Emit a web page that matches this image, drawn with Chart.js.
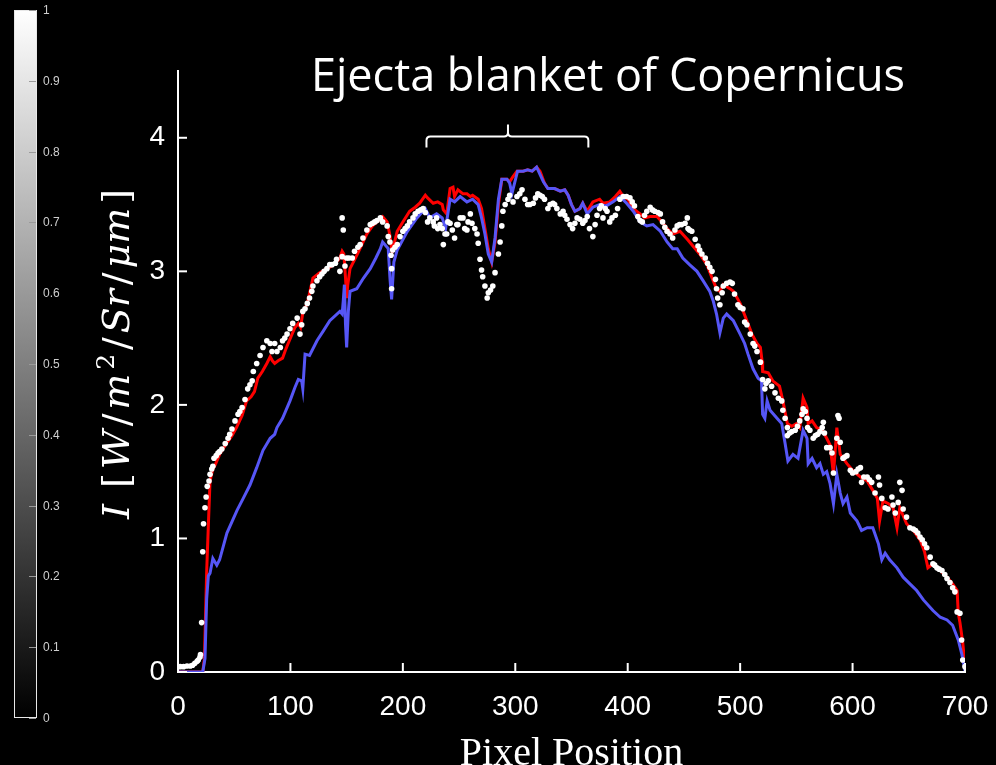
<!DOCTYPE html>
<html>
<head>
<meta charset="utf-8">
<script src="https://cdn.jsdelivr.net/npm/chart.js@4.4.1/dist/chart.umd.min.js"></script>
<style>
  html, body { margin: 0; padding: 0; background: #000; }
  #wrap { width: 996px; height: 765px; position: relative; }
</style>
</head>
<body>
<div id="wrap"><canvas id="perfil"></canvas></div>
<script>
// perfil de radiancia ao longo da linha de pixels

var xTicks = [0, 100, 200, 300, 400, 500, 600, 700];
var yTicks = [0, 1, 2, 3, 4];
var cbTicks = [0, 0.1, 0.2, 0.3, 0.4, 0.5, 0.6, 0.7, 0.8, 0.9, 1];

// curva vermelha
var redX = [0, 22, 23.5, 25.5, 27, 28.5, 31, 33, 37, 43, 48, 52, 57, 61, 65, 68, 71, 75, 79, 82, 84, 86, 89, 93, 96, 99,
  104, 107, 109, 111, 115, 120, 126, 132.5, 137, 141, 144, 146, 147.5, 149, 150, 151, 153, 159, 163, 168, 173, 177, 182,
  186, 188.5, 189.5, 190.5, 192, 195, 200, 206, 211, 215, 220, 222, 227, 231, 235, 236, 239, 242, 244.6, 246, 249, 253.5,
  257, 260, 262, 267, 270, 273, 276, 279, 282, 285, 288, 292.6, 295, 298, 301.5, 307, 311, 315, 319, 322, 326, 329, 335,
  340, 344, 347, 350, 353, 357.5, 360, 364, 369, 375, 378, 384, 389, 393, 396, 400, 405, 411, 415, 420, 426, 430.5, 435,
  440, 446.5, 453, 458, 464, 470.5, 475, 479, 482, 485, 491, 494, 500, 506, 510.5, 515, 518, 519.5, 520, 525, 529, 535,
  538, 542, 546, 550, 553, 556, 559.5, 560.5, 564, 568, 573, 577, 580, 583, 586, 589, 595, 600, 607, 613, 618, 622, 624,
  627, 632, 636, 639.5, 642, 648, 654, 660, 664, 667, 671.5, 678, 684, 689, 693, 694, 695.5, 698, 700];
var redY = [0, 0, 0.1, 0.75, 1.1, 1.43, 1.52, 1.55, 1.63, 1.71, 1.77, 1.83, 1.92, 2.03, 2.06, 2.1, 2.2, 2.25, 2.31, 2.36,
  2.33, 2.31, 2.33, 2.35, 2.42, 2.48, 2.58, 2.61, 2.58, 2.69, 2.76, 2.95, 2.99, 3.02, 3.04, 3.07, 3.1, 3.15, 3.13, 2.95,
  2.8, 2.9, 3.02, 3.12, 3.19, 3.28, 3.34, 3.37, 3.41, 3.37, 3.27, 3.2, 3.15, 3.2, 3.3, 3.37, 3.45, 3.48, 3.51, 3.57, 3.55,
  3.51, 3.52, 3.5, 3.46, 3.43, 3.62, 3.63, 3.56, 3.61, 3.58, 3.58, 3.56, 3.57, 3.54, 3.47, 3.32, 3.17, 3.07, 3.22, 3.5,
  3.69, 3.69, 3.67, 3.71, 3.75, 3.75, 3.76, 3.75, 3.78, 3.75, 3.66, 3.62, 3.62, 3.6, 3.61, 3.57, 3.5, 3.45, 3.47, 3.51,
  3.45, 3.52, 3.54, 3.51, 3.52, 3.56, 3.6, 3.56, 3.54, 3.47, 3.43, 3.4, 3.41, 3.41, 3.37, 3.32, 3.28, 3.3, 3.24, 3.19,
  3.13, 3.05, 2.95, 2.87, 2.85, 2.9, 2.87, 2.85, 2.76, 2.63, 2.53, 2.46, 2.43, 2.33, 2.25, 2.24, 2.18, 2.14, 2.03, 1.86,
  1.84, 1.86, 1.83, 2.05, 1.98, 1.86, 1.88, 1.83, 1.81, 1.75, 1.7, 1.48, 1.83, 1.63, 1.56, 1.51, 1.46, 1.43, 1.36, 1.3,
  1.13, 1.28, 1.26, 1.23, 1.08, 1.23, 1.11, 1.06, 0.99, 0.9, 0.78, 0.81, 0.76, 0.71, 0.66, 0.61, 0.44, 0.37, 0.22, 0.04];

// curva azul
var blueX = [0, 22, 24, 25.5, 27, 28.5, 31, 34.5, 37, 43.5, 52.5, 58, 64, 70, 75.6, 82, 86, 88, 93, 99.6, 104, 107, 110,
  111, 113, 117, 123.6, 129, 135, 144, 146, 147, 148, 149, 150, 151.5, 153, 159, 165, 171, 176, 180, 182, 187, 188.5, 190,
  192, 195, 204, 212.5, 220, 224, 230, 235, 238, 242, 246, 251, 257, 262, 267, 270, 273, 276, 279, 282, 285, 288, 292.6,
  295, 297, 302, 307, 311, 315, 319, 325, 329, 335, 340, 344, 347, 350, 353, 357.5, 360, 364, 369, 375, 381, 387, 393,
  399, 405, 411, 417, 422.5, 429, 435, 440, 444, 449, 455, 461.6, 467, 473, 476, 479, 482, 485, 488, 494, 500, 504, 507,
  511.5, 516, 519, 520, 522, 524, 526.6, 532.8, 537, 540, 542.5, 547, 551.5, 556, 559.5, 560.5, 564, 568, 571, 574, 577,
  580, 583, 586, 589, 591.5, 595, 598, 604, 608, 613, 618, 623, 626, 629, 633, 639.5, 645, 651, 657, 663, 671.5, 678, 684,
  689, 694, 697, 700];
var blueY = [0, 0, 0.1, 0.55, 0.72, 0.74, 0.85, 0.8, 0.84, 1.04, 1.21, 1.3, 1.4, 1.53, 1.66, 1.75, 1.78, 1.83, 1.9, 2.03,
  2.13, 2.19, 2.18, 2.12, 2.38, 2.37, 2.48, 2.55, 2.63, 2.7, 2.68, 2.78, 2.9, 2.6, 2.43, 2.7, 2.85, 2.87, 2.95, 3.02, 3.1,
  3.17, 3.22, 3.17, 2.95, 2.79, 3.07, 3.16, 3.3, 3.4, 3.47, 3.4, 3.43, 3.4, 3.32, 3.54, 3.52, 3.56, 3.52, 3.54, 3.5, 3.4,
  3.28, 3.13, 3.07, 3.25, 3.54, 3.69, 3.69, 3.66, 3.58, 3.75, 3.75, 3.76, 3.75, 3.78, 3.67, 3.62, 3.62, 3.6, 3.61, 3.57,
  3.5, 3.45, 3.47, 3.51, 3.43, 3.48, 3.5, 3.49, 3.52, 3.56, 3.51, 3.45, 3.37, 3.34, 3.35, 3.3, 3.22, 3.17, 3.17, 3.1,
  3.05, 3.0, 2.93, 2.85, 2.78, 2.68, 2.54, 2.65, 2.68, 2.63, 2.53, 2.46, 2.38, 2.27, 2.2, 2.18, 1.93, 1.9, 2.03, 1.96,
  1.9, 1.86, 1.71, 1.58, 1.63, 1.6, 1.81, 1.75, 1.56, 1.6, 1.53, 1.56, 1.48, 1.5, 1.41, 1.26, 1.48, 1.34, 1.26, 1.31,
  1.19, 1.13, 1.06, 1.08, 1.08, 0.96, 0.84, 0.89, 0.84, 0.78, 0.71, 0.66, 0.61, 0.54, 0.46, 0.41, 0.39, 0.35, 0.24,
  0.14, 0.01];

// medidas (pontos brancos)
var dotX = [0, 2, 5, 8, 11, 13, 15, 17, 18, 19.5, 20, 21, 22, 22.7, 24, 25, 26, 27.6, 28.5, 30, 31, 32, 34, 35.6, 37, 39,
  42, 44.5, 46, 48, 50.7, 53.4, 55, 57, 59.6, 62, 64, 66, 67, 70, 73, 75.6, 79, 82, 83.6, 86, 88, 91, 93, 95, 97, 99.6,
  102, 106, 108.5, 110, 111, 113, 115, 117, 119, 120, 123.6, 126, 128, 130, 132.5, 135, 137, 140, 141, 144, 146, 146, 147,
  148.5, 150, 152, 155, 157, 160, 162, 164.5, 168, 171, 173, 175, 177, 180, 182, 186, 187, 188.5, 189.5, 190, 190, 191,
  193, 195, 197.5, 200, 202, 204, 206, 209, 211, 213.5, 216, 218, 220, 222, 224, 227, 228, 230, 231, 233, 235, 236, 237.5,
  239, 240, 242, 244, 246, 248, 249, 251, 253.5, 255, 257, 258, 260, 261.5, 264, 266, 267, 268.6, 270, 271, 273, 275, 276,
  278, 280, 282, 285, 286.5, 288, 289, 291, 293.5, 295, 298, 301.5, 304, 306, 308.6, 311, 313, 316, 318, 320, 322, 324,
  326, 329, 331, 333.5, 335, 337, 340, 342.5, 344, 346, 348.7, 351, 353, 355, 357.5, 360, 362, 364, 366, 369, 371, 372.7,
  375, 376.5, 378, 380, 381.6, 384, 386, 389, 391, 393, 396, 399, 402, 404, 406, 409, 411, 413, 415, 417, 420, 422, 424,
  427, 429, 431, 433, 435, 437.6, 440, 442, 444, 446, 448, 451, 453, 453.6, 455, 457, 460, 462.5, 464, 466, 469, 471,
  473, 475, 478, 479, 480, 482, 484, 485, 488, 491, 493, 495, 498, 500, 502.5, 504, 506, 509, 511.5, 513, 515, 518, 520,
  522, 523, 525, 528, 531, 534, 537, 538, 540, 542, 542, 544, 546, 549, 551, 553, 555, 556, 558, 559.5, 560, 562, 565,
  567, 569, 571, 573, 574, 575, 577, 580, 581.7, 583, 586, 587, 588, 589, 591.5, 593, 595, 598, 600, 603, 605, 607, 608,
  610, 613, 615, 617, 620, 623, 624, 626, 629, 631.5, 635, 636, 638, 640.6, 642, 644, 645, 648, 651, 654, 656, 658, 660,
  662, 664, 666, 669, 671.5, 673, 675, 677, 679.5, 682, 684, 686.6, 689, 691, 693, 695.5, 697, 698, 700];
var dotY = [0.04, 0.04, 0.04, 0.045, 0.045, 0.05, 0.065, 0.08, 0.09, 0.11, 0.13, 0.37, 0.9, 1.11, 1.23, 1.31, 1.39, 1.43,
  1.48, 1.52, 1.54, 1.6, 1.62, 1.64, 1.65, 1.67, 1.71, 1.75, 1.78, 1.82, 1.88, 1.93, 1.95, 1.98, 2.04, 2.12, 2.15, 2.18,
  2.25, 2.31, 2.37, 2.43, 2.48, 2.46, 2.4, 2.46, 2.4, 2.43, 2.48, 2.5, 2.53, 2.57, 2.61, 2.65, 2.53, 2.6, 2.7, 2.72, 2.76,
  2.8, 2.85, 2.89, 2.93, 2.96, 2.98, 3.0, 3.02, 3.05, 3.05, 3.06, 3.09, 3.0, 3.11, 3.4, 3.31, 3.04, 3.1, 3.1, 3.1, 3.15,
  3.18, 3.2, 3.25, 3.31, 3.35, 3.36, 3.37, 3.38, 3.4, 3.37, 3.34, 3.26, 3.22, 3.12, 3.02, 2.87, 3.16, 3.18, 3.2, 3.26, 3.3,
  3.32, 3.34, 3.37, 3.4, 3.43, 3.45, 3.46, 3.47, 3.44, 3.37, 3.4, 3.37, 3.34, 3.4, 3.32, 3.35, 3.32, 3.2, 3.28, 3.28,
  3.37, 3.36, 3.31, 3.25, 3.35, 3.35, 3.4, 3.4, 3.32, 3.31, 3.37, 3.43, 3.36, 3.32, 3.28, 3.21, 3.09, 3.01, 2.96, 2.89,
  2.8, 2.84, 2.86, 2.89, 2.99, 3.13, 3.22, 3.34, 3.45, 3.5, 3.54, 3.57, 3.52, 3.56, 3.58, 3.61, 3.54, 3.5, 3.5, 3.51,
  3.55, 3.58, 3.57, 3.56, 3.54, 3.47, 3.5, 3.51, 3.5, 3.47, 3.43, 3.45, 3.42, 3.39, 3.35, 3.32, 3.36, 3.4, 3.39, 3.36,
  3.38, 3.41, 3.32, 3.26, 3.35, 3.42, 3.47, 3.49, 3.4, 3.47, 3.45, 3.37, 3.4, 3.42, 3.47, 3.54, 3.56, 3.56, 3.55, 3.52,
  3.49, 3.41, 3.38, 3.37, 3.42, 3.45, 3.48, 3.46, 3.45, 3.44, 3.43, 3.37, 3.33, 3.3, 3.28, 3.25, 3.31, 3.34, 3.35, 3.35,
  3.36, 3.4, 3.32, 3.31, 3.3, 3.24, 3.19, 3.16, 3.13, 3.1, 3.06, 3.03, 3.0, 2.94, 2.87, 2.8, 2.75, 2.84, 2.89, 2.91,
  2.92, 2.91, 2.83, 2.75, 2.73, 2.72, 2.62, 2.6, 2.53, 2.46, 2.44, 2.4, 2.32, 2.19, 2.12, 2.16, 2.18, 2.14, 2.09, 2.05,
  2.03, 1.96, 1.9, 1.83, 1.77, 1.79, 1.8, 1.81, 1.84, 1.88, 1.93, 1.97, 1.95, 1.9, 1.83, 1.81, 1.75, 1.77, 1.78, 1.8,
  1.83, 1.87, 1.79, 1.68, 1.68, 1.64, 1.49, 1.75, 1.92, 1.9, 1.72, 1.6, 1.61, 1.62, 1.51, 1.49, 1.5, 1.52, 1.53, 1.42,
  1.46, 1.46, 1.44, 1.42, 1.34, 1.46, 1.4, 1.3, 1.23, 1.22, 1.31, 1.25, 1.19, 1.27, 1.42, 1.36, 1.22, 1.16, 1.08, 1.07,
  1.06, 1.04, 1.01, 0.99, 0.96, 0.93, 0.86, 0.81, 0.8, 0.78, 0.77, 0.76, 0.73, 0.7, 0.67, 0.63, 0.6, 0.45, 0.44, 0.24,
  0.09, 0.04];

// chave sobre a regiao central (em unidades do grafico)
var braceX = [221, 293.5, 365];
var braceY = 4.01;

function pares(xs, ys) {
  return xs.map(function(v, i) { return { x: v, y: ys[i] }; });
}

// barra de cores em cinza a esquerda
var colorbarPlugin = {
  id: 'colorbar',
  beforeDraw: function(chart) {
    var ctx = chart.ctx;
    var top = 10, bottom = 718, left = 14, right = 37;
    ctx.save();
    var grad = ctx.createLinearGradient(0, bottom, 0, top);
    grad.addColorStop(0, '#000');
    grad.addColorStop(1, '#fff');
    ctx.fillStyle = grad;
    ctx.fillRect(left, top, right - left, bottom - top);
    ctx.strokeStyle = '#e8e8e8';
    ctx.lineWidth = 1;
    ctx.strokeRect(left + 0.5, top + 0.5, right - left - 1, bottom - top - 1);
    ctx.font = '12px "Liberation Sans"';
    ctx.textBaseline = 'middle';
    ctx.textAlign = 'left';
    cbTicks.forEach(function(v) {
      var py = Math.round(bottom - v * (bottom - top)) + 0.5;
      ctx.strokeStyle = '#9a9a9a';
      ctx.beginPath();
      ctx.moveTo(right - 8, py);
      ctx.lineTo(right - 1, py);
      ctx.stroke();
      ctx.fillStyle = '#cfcfcf';
      ctx.fillText(String(v), 43, py);
    });
    ctx.restore();
  }
};

// ticks para dentro, titulo, rotulo do eixo y e a chave
var extrasPlugin = {
  id: 'extras',
  afterDraw: function(chart) {
    var ctx = chart.ctx;
    var area = chart.chartArea;
    var x = chart.scales.x, y = chart.scales.y;
    ctx.save();
    ctx.strokeStyle = '#fff';
    ctx.lineWidth = 2;
    xTicks.forEach(function(v) {
      var px = x.getPixelForValue(v);
      ctx.beginPath();
      ctx.moveTo(px, area.bottom);
      ctx.lineTo(px, area.bottom - 9);
      ctx.stroke();
    });
    yTicks.forEach(function(v) {
      var py = y.getPixelForValue(v);
      ctx.beginPath();
      ctx.moveTo(area.left, py);
      ctx.lineTo(area.left + 9, py);
      ctx.stroke();
    });

    // chave
    var x0 = x.getPixelForValue(braceX[0]);
    var xm = x.getPixelForValue(braceX[1]);
    var x1 = x.getPixelForValue(braceX[2]);
    var yb = y.getPixelForValue(braceY);
    ctx.lineWidth = 2;
    ctx.beginPath();
    ctx.moveTo(x0, yb + 11);
    ctx.lineTo(x0, yb + 4);
    ctx.quadraticCurveTo(x0, yb, x0 + 4, yb);
    ctx.lineTo(xm - 4, yb);
    ctx.quadraticCurveTo(xm, yb, xm, yb - 4);
    ctx.lineTo(xm, yb - 12);
    ctx.moveTo(xm, yb - 4);
    ctx.quadraticCurveTo(xm, yb, xm + 4, yb);
    ctx.lineTo(x1 - 4, yb);
    ctx.quadraticCurveTo(x1, yb, x1, yb + 4);
    ctx.lineTo(x1, yb + 11);
    ctx.stroke();

    // titulo
    ctx.fillStyle = '#fff';
    ctx.font = '45px "Open Sans"';
    ctx.textAlign = 'center';
    ctx.textBaseline = 'alphabetic';
    ctx.fillText('Ejecta blanket of Copernicus', 608, 91);

    // rotulo do eixo y, estilo LaTeX
    var it = 'italic 38px "DejaVu Serif"';
    var rm = '38px "DejaVu Serif"';
    var partes = [
      { t: 'I', f: it },
      { t: ' [', f: rm },
      { t: 'W', f: it },
      { t: '/', f: rm },
      { t: 'm', f: it },
      { t: '2', f: '25px "DejaVu Serif"', up: 15 },
      { t: '/', f: rm },
      { t: 'Sr', f: it },
      { t: '/', f: rm },
      { t: '\u03bcm', f: it },
      { t: ']', f: rm }
    ];
    var total = 0;
    partes.forEach(function(p) {
      ctx.font = p.f;
      p.w = ctx.measureText(p.t).width;
      total += p.w;
    });
    // espaco extra entre as partes para ocupar o comprimento do eixo
    var gap = Math.max(0, (330 - total) / (partes.length - 1));
    ctx.translate(129, 354);
    ctx.rotate(-Math.PI / 2);
    ctx.textAlign = 'left';
    var cx = -(total + gap * (partes.length - 1)) / 2;
    partes.forEach(function(p) {
      ctx.font = p.f;
      ctx.fillText(p.t, cx, -(p.up || 0));
      cx += p.w + gap;
    });
    ctx.restore();
  }
};

var ctx = document.getElementById('perfil').getContext('2d');

var grafico = new Chart(ctx, {
  type: 'scatter',
  data: {
    datasets: [
      {
        label: 'medido',
        data: pares(dotX, dotY),
        pointRadius: 2.8,
        pointBackgroundColor: '#fff',
        pointBorderWidth: 0,
        showLine: false
      },
      {
        label: 'azul',
        data: pares(blueX, blueY),
        showLine: true,
        borderColor: '#5656f6',
        borderWidth: 3,
        pointRadius: 0,
        tension: 0
      },
      {
        label: 'vermelho',
        data: pares(redX, redY),
        showLine: true,
        borderColor: '#ff0000',
        borderWidth: 3,
        pointRadius: 0,
        tension: 0
      }
    ]
  },
  options: {
    responsive: true,
    maintainAspectRatio: false,
    animation: false,
    layout: { padding: { top: 71, right: 31, bottom: 0, left: 0 } },
    plugins: {
      legend: { display: false },
      tooltip: { enabled: false }
    },
    scales: {
      x: {
        type: 'linear',
        min: 0,
        max: 700,
        grid: { display: false, drawTicks: false },
        border: { color: '#fff', width: 2 },
        afterBuildTicks: function(s) { s.ticks = xTicks.map(function(v) { return { value: v }; }); },
        afterFit: function(s) { s.height = 93; s.paddingLeft = 0; s.paddingRight = 0; },
        ticks: {
          color: '#fff',
          autoSkip: false,
          maxRotation: 0,
          padding: 18,
          font: { family: 'Liberation Sans', size: 28 }
        },
        title: {
          display: true,
          text: 'Pixel Position',
          color: '#fff',
          padding: 0,
          font: { family: 'Liberation Serif', size: 40, lineHeight: 0.52 }
        }
      },
      y: {
        type: 'linear',
        min: 0,
        max: 4.5,
        grid: { display: false, drawTicks: false },
        border: { color: '#fff', width: 2 },
        afterBuildTicks: function(s) { s.ticks = yTicks.map(function(v) { return { value: v }; }); },
        afterFit: function(s) { s.width = 178; s.paddingTop = 0; s.paddingBottom = 0; },
        ticks: {
          color: '#fff',
          autoSkip: false,
          padding: 13,
          font: { family: 'Liberation Sans', size: 28 }
        }
      }
    }
  },
  plugins: [colorbarPlugin, extrasPlugin]
});
</script>
</body>
</html>
